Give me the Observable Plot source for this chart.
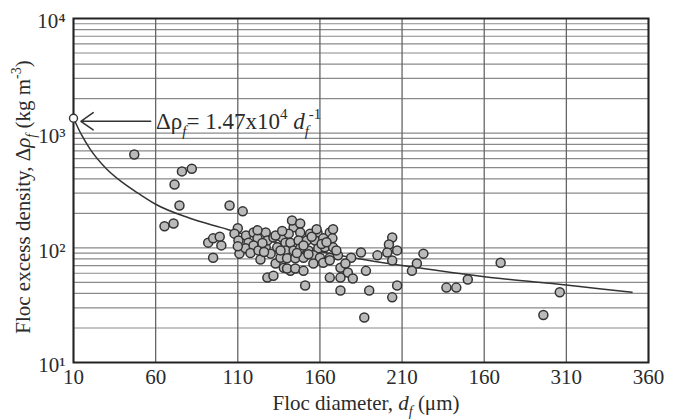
<!DOCTYPE html>
<html><head><meta charset="utf-8">
<script src="https://cdn.jsdelivr.net/npm/d3@7"></script>
<script src="https://cdn.jsdelivr.net/npm/@observablehq/plot@0.6"></script>
<style>
body{margin:0;background:#fff;}
#chart{width:683px;height:420px;}
</style></head><body><div id="chart"></div>
<script>
// Floc data
const flocDiameter = [47,76,82,71.5,74.5,65.4,70.9,105,113,92,95,99,100,95,110,108,110.4,111,115,116.5,114.7,119.6,122,119.6,117.7,122.6,123.8,127,127,128,130,128,131.7,133,134,137,136,139,138,131.7,142,144,141,143,148,148,154,158.5,166,168,142,147,152,157,162,167.6,139,144,148,153,159,163,168,140,145,150,156,160,166,171,179,185,195,140,145,150,156,162,166,172.5,175.5,177,166,172.5,180,188,151,172.5,190,204,202,207,201,204,223,219,216,207,204,237,243,187,270,250,306,296,122,110,125,133,136,150,155,161,146,126,153,164,170,137,158];
const flocDensity  = [652,464,490,357,234,154,163,234,208,111,121,125,105,82,148,133,116,89,128,111,99,136,121,105,90,95,79,136,101,116,89,55,57,73,101,123,82,111,67,123,63,151,133,173,163,136,133,136,136,145,111,116,116,116,121,121,95,95,99,95,99,101,101,81,81,82,86,82,82,86,82,91,86,66,66,63,73,74,78,67,73,61,55,55,54,63,47,42.5,42.5,123,107,95,91,77.5,89,73,63,47,37,45,45,24.7,74,53,41,26,142,103,110,128,95,105,125,108,90,92,88,112,95,140,145];

// Fitted curve (Δρ = 1.47x10^4 d^-1)
const fitDiameter = [10,15,20,30,40,50,60,80,100,120,150,180,210,240,270,300,330,350];
const fitDensity  = [1350,960,730,490,370,295,240,183,150,124,99,82,70,61,54,49,44,41];

const xTicks = [10,60,110,160,210,260,310,360];
const xTickLabels = ["10","60","110","160","210","160","310","360"];
const yTicks = [10,100,1000,10000];
const yTickLabels = ["10¹","10²","10³","10⁴"];

// annotation anchor (data units)
const markerD = 10, markerRho = 1350;
const arrowFrom = 57, arrowTo = 14.5, arrowRho = 1270;
const annD = 60.5, annRho = 1270;

const points = flocDiameter.map((d,i)=>({d, rho: flocDensity[i]}));
const fit = fitDiameter.map((d,i)=>({d, rho: fitDensity[i]}));

const FS = 21;
const ink = "#2b2b2b";

const svg = Plot.plot({
  width: 683, height: 420,
  marginLeft: 73, marginRight: 35, marginTop: 18, marginBottom: 58,
  style: {fontFamily: "Liberation Serif", fontSize: FS+"px", color: ink, background: "#fff"},
  x: {domain: [10, 360]},
  y: {type: "log", domain: [10, 10000]},
  marks: [
    Plot.gridY({stroke: "#8a8a8a", strokeOpacity: 1, strokeWidth: 1.2}),
    Plot.gridX({ticks: xTicks, stroke: "#666", strokeOpacity: 1, strokeWidth: 1.3}),
    Plot.frame({stroke: "#222", strokeWidth: 2}),
    Plot.line(fit, {x: "d", y: "rho", curve: "monotone-x", stroke: "#333", strokeWidth: 1.5}),
    Plot.dot(points, {x: "d", y: "rho", r: 4.5, fill: "#bababa", stroke: "#333", strokeWidth: 1.5}),
    Plot.dot([{d: markerD, rho: markerRho}], {x: "d", y: "rho", r: 4, fill: "#fff", stroke: "#333", strokeWidth: 1.4}),
    Plot.arrow([{a: arrowFrom, b: arrowTo, rho: arrowRho}], {x1: "a", x2: "b", y1: "rho", y2: "rho", stroke: "#333", strokeWidth: 1.5, headAngle: 70, headLength: 15}),
    Plot.axisX({ticks: xTicks, tickSize: 0, tickPadding: 7, fontSize: FS, label: null,
      tickFormat: d => xTickLabels[xTicks.indexOf(d)]}),
    Plot.axisY({ticks: yTicks, tickSize: 0, tickPadding: 8, fontSize: FS, label: null, dy: 3,
      tickFormat: d => yTickLabels[yTicks.indexOf(d)]})
  ]
});

function rich(sel, parts, size) {
  let shift = 0;
  for (const p of parts) {
    const t = sel.append("tspan").text(p.t);
    const target = p.sub ? 0.3*size : p.sup ? -0.42*size : 0;
    if (target - shift !== 0) t.attr("dy", target - shift);
    shift = target;
    if (p.sub || p.sup) t.attr("font-size", Math.round(size*0.65));
    if (p.it) t.attr("font-style", "italic");
  }
}

const sx = svg.scale("x"), sy = svg.scale("y");
const root = d3.select(svg);

// Annotation text
const AFS = 23;
const ann = root.append("text")
  .attr("x", sx.apply(annD)).attr("y", sy.apply(annRho) + 8)
  .attr("text-anchor", "start")
  .attr("font-family", "Liberation Serif").attr("font-size", AFS).attr("fill", ink);
rich(ann, [{t:"Δρ"},{t:"f",sub:true,it:true},{t:"= 1.47x10"},{t:"4",sup:true},{t:" "},{t:"d",it:true},{t:"f",sub:true,it:true},{t:"-1",sup:true}], AFS);

// X axis label
const xl = root.append("text")
  .attr("x", 366).attr("y", 410).attr("text-anchor", "middle")
  .attr("font-family", "Liberation Serif").attr("font-size", FS).attr("fill", ink);
rich(xl, [{t:"Floc diameter, "},{t:"d",it:true},{t:"f",sub:true,it:true},{t:" (μm)"}], FS);

// Y axis label
const yl = root.append("text")
  .attr("transform", "translate(30,197) rotate(-90)").attr("text-anchor", "middle")
  .attr("font-family", "Liberation Serif").attr("font-size", FS).attr("fill", ink);
rich(yl, [{t:"Floc excess density, Δ"},{t:"ρ",it:true},{t:"f",sub:true,it:true},{t:" (kg m"},{t:"-3",sup:true},{t:")"}], FS);

document.getElementById("chart").appendChild(svg);
</script>
</body></html>
